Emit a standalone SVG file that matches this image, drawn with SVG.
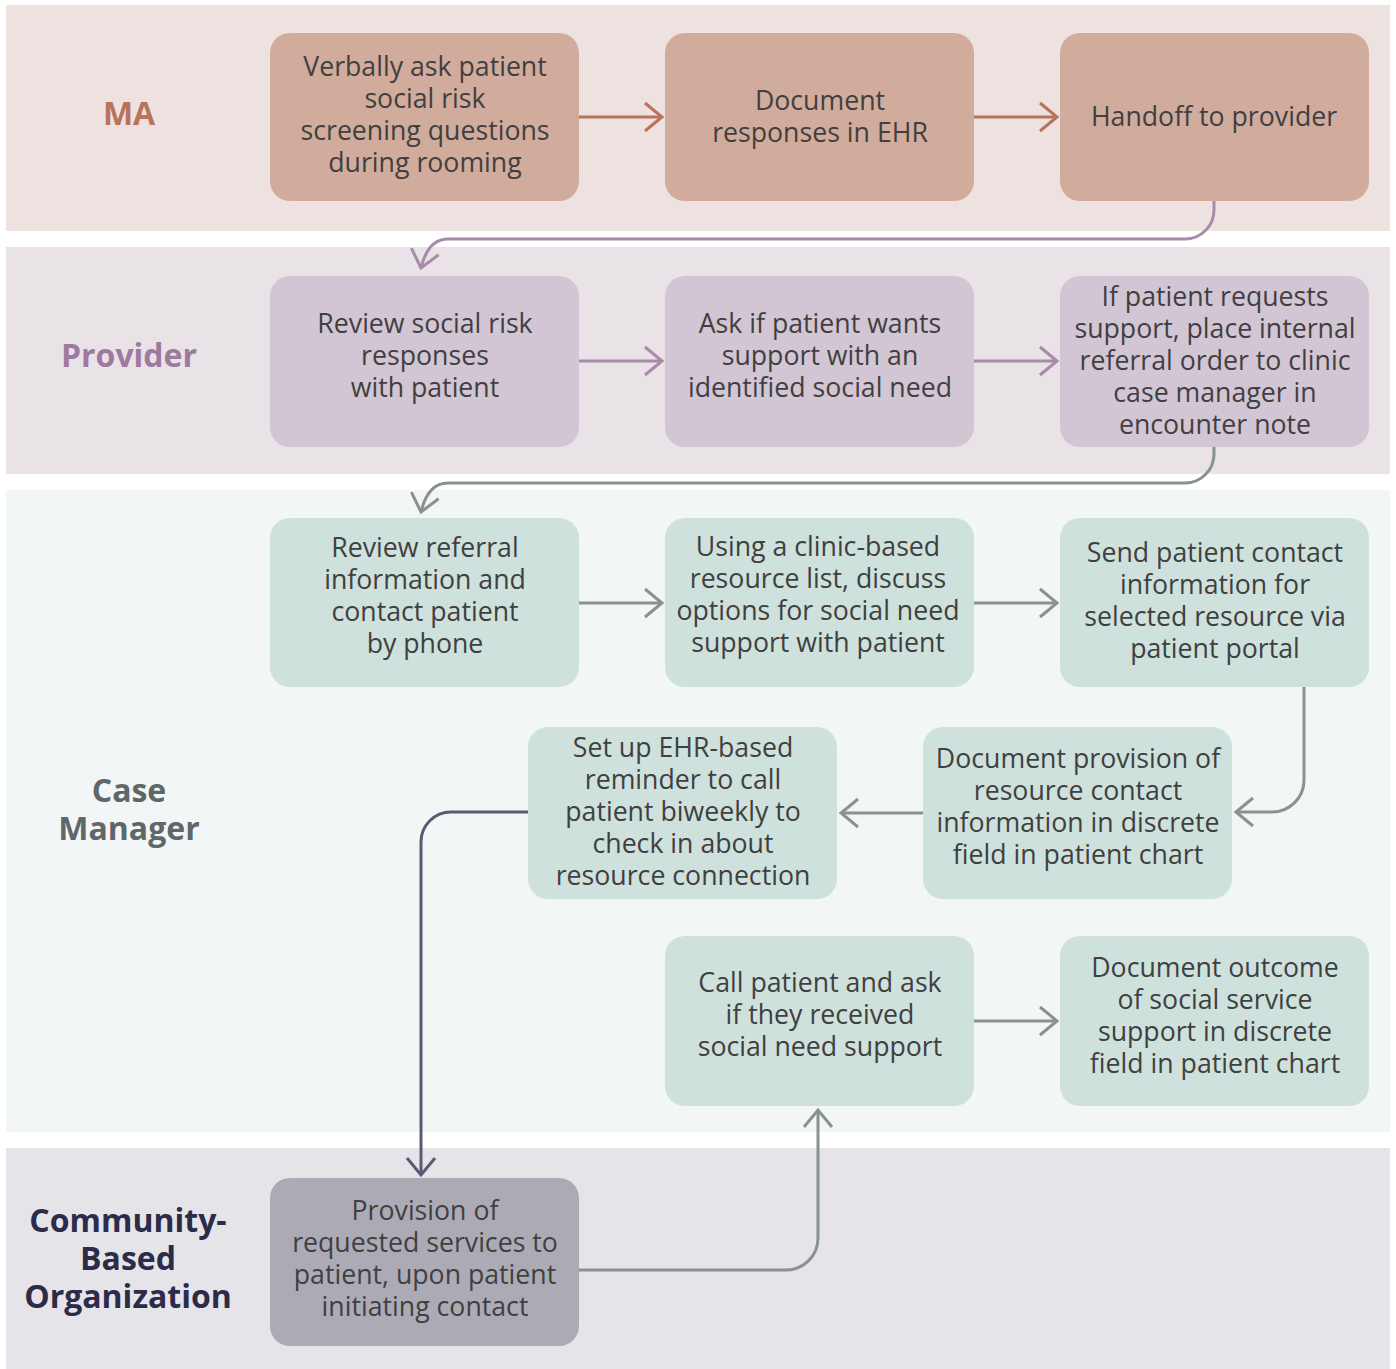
<svg xmlns="http://www.w3.org/2000/svg" width="1396" height="1369" viewBox="0 0 1396 1369">
<style>
.t{font-family:"Open Sans","Noto Sans","Liberation Sans",sans-serif;font-size:26.7px;fill:#404040;text-anchor:middle}
.lb{font-family:"Open Sans","Noto Sans","Liberation Sans",sans-serif;font-size:32px;font-weight:bold;text-anchor:middle}
.c{fill:none;stroke-width:3}
.ma{fill:#d1ab9c}.pr{fill:#d3c6d4}.cm{fill:#cfe1dc}.cb{fill:#acabb5}
</style>
<defs>
<marker id="aB" markerUnits="userSpaceOnUse" orient="auto" markerWidth="40" markerHeight="40" refX="20" refY="20" viewBox="0 0 40 40"><path d="M3,6 L20,20 L3,34" fill="none" stroke="#b8735a" stroke-width="3"/></marker>
<marker id="aP" markerUnits="userSpaceOnUse" orient="auto" markerWidth="40" markerHeight="40" refX="20" refY="20" viewBox="0 0 40 40"><path d="M3,6 L20,20 L3,34" fill="none" stroke="#a98aab" stroke-width="3"/></marker>
<marker id="aG" markerUnits="userSpaceOnUse" orient="auto" markerWidth="40" markerHeight="40" refX="20" refY="20" viewBox="0 0 40 40"><path d="M3,6 L20,20 L3,34" fill="none" stroke="#889390" stroke-width="3"/></marker>
<marker id="aD" markerUnits="userSpaceOnUse" orient="auto" markerWidth="40" markerHeight="40" refX="20" refY="20" viewBox="0 0 40 40"><path d="M3,6 L20,20 L3,34" fill="none" stroke="#5a5a72" stroke-width="3"/></marker>
</defs>

<g id="lanes">
<rect x="6" y="5" width="1384" height="226" fill="#ede2df"/>
<rect x="6" y="247" width="1384" height="227" fill="#e9e2e6"/>
<rect x="6" y="490" width="1384" height="642" fill="#f2f6f6"/>
<rect x="6" y="1148" width="1384" height="221" fill="#e5e4e9"/>
</g>

<g id="lane-labels">
<text class="lb" x="129" y="125" fill="#b8735a">MA</text>
<text class="lb" x="129" y="367" fill="#9e7a9e">Provider</text>
<text class="lb" x="129" y="802" fill="#5e6868">Case</text>
<text class="lb" x="129" y="840" fill="#5e6868">Manager</text>
<text class="lb" x="128" y="1232" fill="#2c2c4a">Community-</text>
<text class="lb" x="128" y="1270" fill="#2c2c4a">Based</text>
<text class="lb" x="128" y="1308" fill="#2c2c4a">Organization</text>
</g>

<g id="connectors">
<path class="c" stroke="#b8735a" d="M579,117 H662" marker-end="url(#aB)"/>
<path class="c" stroke="#b8735a" d="M974,117 H1057" marker-end="url(#aB)"/>
<path class="c" stroke="#a98aab" d="M1214,201 V210 A29,29 0 0 1 1185,239 H448 Q428,239 421,268" marker-end="url(#aP)"/>
<path class="c" stroke="#a98aab" d="M579,361 H662" marker-end="url(#aP)"/>
<path class="c" stroke="#a98aab" d="M974,361 H1057" marker-end="url(#aP)"/>
<path class="c" stroke="#889390" d="M1214,447 V454 A29,29 0 0 1 1185,483 H448 Q428,483 421,512" marker-end="url(#aG)"/>
<path class="c" stroke="#889390" d="M579,603 H662" marker-end="url(#aG)"/>
<path class="c" stroke="#889390" d="M974,603 H1057" marker-end="url(#aG)"/>
<path class="c" stroke="#889390" d="M1304,687 V780 A32,32 0 0 1 1272,812 H1236" marker-end="url(#aG)"/>
<path class="c" stroke="#889390" d="M923,813 H841" marker-end="url(#aG)"/>
<path class="c" stroke="#5a5a72" d="M528,812 H451 A30,30 0 0 0 421,842 V1175" marker-end="url(#aD)"/>
<path class="c" stroke="#889390" d="M579,1270 H786 A32,32 0 0 0 818,1238 V1110" marker-end="url(#aG)"/>
<path class="c" stroke="#889390" d="M974,1021 H1057" marker-end="url(#aG)"/>
</g>

<g id="n-ma1"><rect class="ma" x="270" y="33" width="309" height="168" rx="20"/>
<text class="t" x="425" y="76">Verbally ask patient</text><text class="t" x="425" y="108">social risk</text><text class="t" x="425" y="140">screening questions</text><text class="t" x="425" y="172">during rooming</text></g>
<g id="n-ma2"><rect class="ma" x="665" y="33" width="309" height="168" rx="20"/>
<text class="t" x="820" y="110">Document</text><text class="t" x="820" y="142">responses in EHR</text></g>
<g id="n-ma3"><rect class="ma" x="1060" y="33" width="309" height="168" rx="20"/>
<text class="t" x="1214" y="126">Handoff to provider</text></g>

<g id="n-pr1"><rect class="pr" x="270" y="276" width="309" height="171" rx="20"/>
<text class="t" x="425" y="333">Review social risk</text><text class="t" x="425" y="365">responses</text><text class="t" x="425" y="397">with patient</text></g>
<g id="n-pr2"><rect class="pr" x="665" y="276" width="309" height="171" rx="20"/>
<text class="t" x="820" y="333">Ask if patient wants</text><text class="t" x="820" y="365">support with an</text><text class="t" x="820" y="397">identified social need</text></g>
<g id="n-pr3"><rect class="pr" x="1060" y="276" width="309" height="171" rx="20"/>
<text class="t" x="1215" y="306">If patient requests</text><text class="t" x="1215" y="338">support, place internal</text><text class="t" x="1215" y="370">referral order to clinic</text><text class="t" x="1215" y="402">case manager in</text><text class="t" x="1215" y="434">encounter note</text></g>

<g id="n-cm1"><rect class="cm" x="270" y="518" width="309" height="169" rx="20"/>
<text class="t" x="425" y="557">Review referral</text><text class="t" x="425" y="589">information and</text><text class="t" x="425" y="621">contact patient</text><text class="t" x="425" y="653">by phone</text></g>
<g id="n-cm2"><rect class="cm" x="665" y="518" width="309" height="169" rx="20"/>
<text class="t" x="818" y="556">Using a clinic-based</text><text class="t" x="818" y="588">resource list, discuss</text><text class="t" x="818" y="620">options for social need</text><text class="t" x="818" y="652">support with patient</text></g>
<g id="n-cm3"><rect class="cm" x="1060" y="518" width="309" height="169" rx="20"/>
<text class="t" x="1215" y="562">Send patient contact</text><text class="t" x="1215" y="594">information for</text><text class="t" x="1215" y="626">selected resource via</text><text class="t" x="1215" y="658">patient portal</text></g>
<g id="n-cm4"><rect class="cm" x="528" y="727" width="309" height="172" rx="20"/>
<text class="t" x="683" y="757">Set up EHR-based</text><text class="t" x="683" y="789">reminder to call</text><text class="t" x="683" y="821">patient biweekly to</text><text class="t" x="683" y="853">check in about</text><text class="t" x="683" y="885">resource connection</text></g>
<g id="n-cm5"><rect class="cm" x="923" y="727" width="309" height="172" rx="20"/>
<text class="t" x="1078" y="768">Document provision of</text><text class="t" x="1078" y="800">resource contact</text><text class="t" x="1078" y="832">information in discrete</text><text class="t" x="1078" y="864">field in patient chart</text></g>
<g id="n-cm6"><rect class="cm" x="665" y="936" width="309" height="170" rx="20"/>
<text class="t" x="820" y="992">Call patient and ask</text><text class="t" x="820" y="1024">if they received</text><text class="t" x="820" y="1056">social need support</text></g>
<g id="n-cm7"><rect class="cm" x="1060" y="936" width="309" height="170" rx="20"/>
<text class="t" x="1215" y="977">Document outcome</text><text class="t" x="1215" y="1009">of social service</text><text class="t" x="1215" y="1041">support in discrete</text><text class="t" x="1215" y="1073">field in patient chart</text></g>

<g id="n-cbo"><rect class="cb" x="270" y="1178" width="309" height="168" rx="20"/>
<text class="t" x="425" y="1220">Provision of</text><text class="t" x="425" y="1252">requested services to</text><text class="t" x="425" y="1284">patient, upon patient</text><text class="t" x="425" y="1316">initiating contact</text></g>
</svg>
